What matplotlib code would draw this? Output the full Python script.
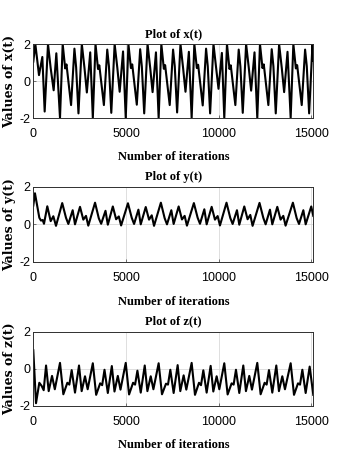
import matplotlib.pyplot as plt

# values (iteration, value) at turning points
x_t = [0, 110, 307, 487, 613, 793, 937, 1098, 1242, 1440,
       1585, 1720, 1790, 2037, 2218, 2309, 2436, 2617, 2761, 2888, 3070, 3210,
       3355, 3490, 3560, 3807, 3988, 4079, 4206, 4387, 4531, 4658, 4840, 4985,
       5130, 5265, 5335, 5582, 5763, 5854, 5981, 6162, 6306, 6433, 6615, 6760,
       6905, 7040, 7110, 7357, 7538, 7629, 7756, 7937, 8081, 8208, 8390, 8540,
       8685, 8820, 8890, 9137, 9318, 9409, 9536, 9717, 9861, 9988, 10170, 10300,
       10445, 10580, 10650, 10897, 11078, 11169, 11296, 11477, 11621, 11748, 11930, 12080,
       12225, 12360, 12430, 12677, 12858, 12949, 13076, 13257, 13401, 13528, 13710, 13880,
       14025, 14160, 14230, 14477, 14658, 14749, 14876, 15057, 15100]
x_val = [1.05, 2.0, 0.32, 1.3, -1.65, 2.0, 0.7, -0.5, 1.5, -2.0,
         2.0, 0.68, 0.9, -1.3, 1.75, 0.75, -1.75, 2.0, 0.7, -0.62, 1.55, -2.0,
         2.0, 0.65, 0.85, -1.3, 1.7, 0.8, -1.72, 2.0, 0.72, -0.58, 1.6, -2.0,
         2.0, 0.7, 0.9, -1.28, 1.72, 0.78, -1.75, 2.0, 0.7, -0.6, 1.55, -2.0,
         2.0, 0.66, 0.86, -1.3, 1.7, 0.8, -1.7, 2.0, 0.68, -0.58, 1.58, -2.0,
         2.0, 0.7, 0.88, -1.32, 1.75, 0.8, -1.75, 2.0, 0.7, -0.42, 1.52, -2.0,
         2.0, 0.65, 0.85, -1.3, 1.7, 0.78, -1.72, 2.0, 0.72, -0.52, 1.55, -2.0,
         2.0, 0.7, 0.9, -1.3, 1.72, 0.8, -1.75, 2.0, 0.7, -0.6, 1.58, -2.0,
         2.0, 0.68, 0.86, -1.3, 1.7, 0.8, -1.75, 2.0, 1.1]

y_t = [0, 90, 325, 415, 505, 577, 755, 937, 1080, 1224,
       1560, 1763, 1890, 2124, 2249, 2519, 2697, 2842, 2966,
       3330, 3533, 3660, 3894, 4019, 4289, 4467, 4612, 4736,
       5105, 5308, 5435, 5669, 5794, 6064, 6242, 6387, 6511,
       6880, 7083, 7210, 7444, 7569, 7839, 8017, 8162, 8286,
       8660, 8863, 8990, 9224, 9349, 9619, 9797, 9942, 10066,
       10420, 10623, 10750, 10984, 11109, 11379, 11557, 11702, 11826,
       12200, 12403, 12530, 12764, 12889, 13159, 13337, 13482, 13606,
       14000, 14203, 14330, 14564, 14689, 14990, 15100]
y_val = [1.0, 1.65, 0.35, 0.2, 0.23, 0.03, 0.96, 0.17, 0.43, -0.08,
         1.13, 0.35, 0.02, 0.75, 0.0, 0.93, 0.25, 0.45, -0.07,
         1.15, 0.32, 0.03, 0.72, -0.02, 0.95, 0.27, 0.42, -0.06,
         1.12, 0.35, 0.02, 0.78, 0.0, 0.92, 0.25, 0.48, -0.08,
         1.15, 0.33, 0.0, 0.75, 0.02, 0.95, 0.26, 0.45, -0.07,
         1.13, 0.35, 0.03, 0.8, 0.0, 0.93, 0.25, 0.44, -0.06,
         1.15, 0.34, 0.02, 0.75, -0.02, 0.95, 0.27, 0.5, -0.08,
         1.14, 0.35, 0.0, 0.78, 0.0, 0.93, 0.25, 0.45, -0.07,
         1.15, 0.33, 0.02, 0.75, 0.0, 0.95, 0.45]

z_t = [0, 146, 324, 451, 560, 688, 830, 1010, 1160,
       1440, 1620, 1836, 1944, 2070, 2249, 2465, 2608, 2788, 2932,
       3210, 3390, 3606, 3714, 3840, 4019, 4235, 4378, 4558, 4702,
       4985, 5165, 5381, 5489, 5615, 5794, 6010, 6153, 6333, 6477,
       6760, 6940, 7156, 7264, 7390, 7569, 7785, 7928, 8108, 8252,
       8540, 8720, 8936, 9044, 9170, 9349, 9565, 9708, 9888, 10032,
       10300, 10480, 10696, 10804, 10930, 11109, 11325, 11468, 11648, 11792,
       12080, 12260, 12476, 12584, 12710, 12889, 13105, 13248, 13428, 13572,
       13880, 14060, 14276, 14384, 14510, 14689, 14905, 15100]
z_val = [1.0, -1.85, -0.75, -0.92, -1.15, 0.18, -1.2, -0.38, -1.1,
         0.32, -1.37, -0.75, -0.85, -0.07, -1.28, 0.18, -1.2, -0.4, -1.1,
         0.3, -1.4, -0.78, -0.88, -0.05, -1.3, 0.15, -1.22, -0.38, -1.12,
         0.32, -1.38, -0.75, -0.85, -0.1, -1.28, 0.18, -1.2, -0.4, -1.1,
         0.3, -1.37, -0.8, -0.85, -0.05, -1.3, 0.2, -1.2, -0.35, -1.12,
         0.32, -1.4, -0.75, -0.88, -0.08, -1.28, 0.16, -1.22, -0.4, -1.1,
         0.3, -1.38, -0.78, -0.85, -0.05, -1.3, 0.18, -1.2, -0.38, -1.12,
         0.32, -1.37, -0.75, -0.85, -0.07, -1.28, 0.18, -1.2, -0.4, -1.1,
         0.3, -1.4, -0.78, -0.85, -0.05, -1.3, 0.12, -1.4]

names = ['x', 'y', 'z']
series = [(x_t, x_val), (y_t, y_val), (z_t, z_val)]
x_ticks = [0, 5000, 10000, 15000]
y_ticks = [-2, 0, 2]

# axes boxes in figure fractions [left, bottom, width, height]
boxes = [[0.0938, 0.7462, 0.7887, 0.1591],
         [0.0938, 0.4366, 0.7887, 0.1619],
         [0.0938, 0.1269, 0.7887, 0.1598]]

tick_font = ['Liberation Sans Narrow', 'Liberation Sans', 'DejaVu Sans']

fig = plt.figure(figsize=(3.55, 4.65), dpi=100)
for i in range(3):
    ax = fig.add_axes(boxes[i])
    t, v = series[i]
    ax.plot(t, v, color='black', linewidth=1.5)
    ax.set_xlim(0, 15100)
    ax.set_ylim(-2, 2)
    ax.set_xticks(x_ticks)
    ax.set_yticks(y_ticks)
    ax.set_xticklabels([str(k) for k in x_ticks], family=tick_font, fontsize=9)
    ax.set_yticklabels([str(k) for k in y_ticks], family=tick_font, fontsize=9)
    ax.grid(True, color='#d9d9d9', linewidth=0.6)
    ax.tick_params(direction='in', length=2, width=0.5, color='#404040')
    ax.tick_params(axis='x', pad=7.5)
    ax.tick_params(axis='y', pad=2)
    for sp in ax.spines.values():
        sp.set_color('#303030')
        sp.set_linewidth(0.7)
    ax.set_title('Plot of ' + names[i] + '(t)', family='Liberation Serif',
                 fontweight='bold', fontsize=9, pad=5)
    ax.set_xlabel('Number of iterations', family='Liberation Serif',
                  fontweight='bold', fontsize=9)
    ax.xaxis.set_label_coords(0.5, -0.45)
    ax.set_ylabel('Values of ' + names[i] + '(t)', family='DejaVu Serif',
                  fontweight='bold', fontsize=9)
    ax.yaxis.set_label_coords(-0.063, 0.5)

plt.savefig('out.png', dpi=100)
